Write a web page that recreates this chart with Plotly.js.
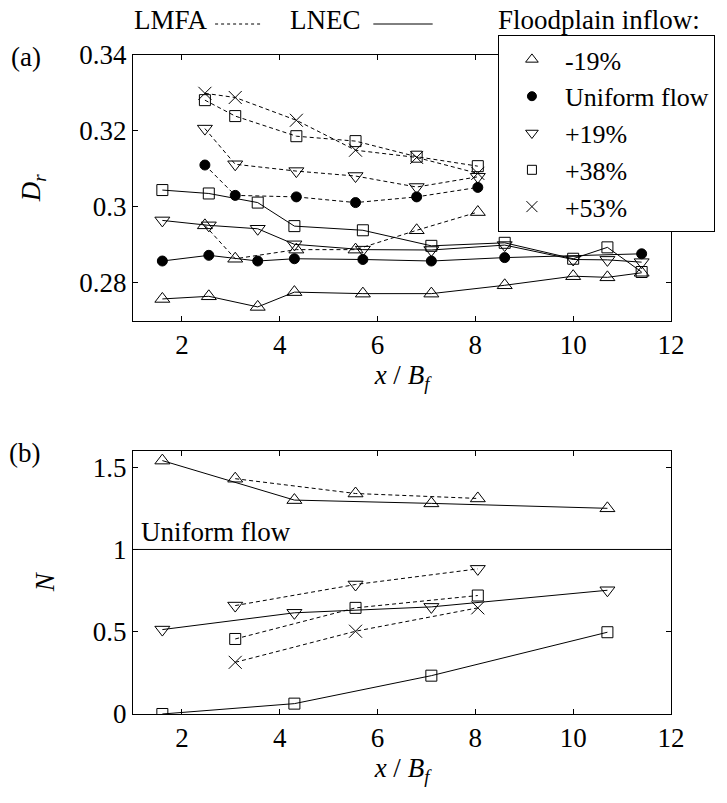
<!DOCTYPE html>
<html>
<head>
<meta charset="utf-8">
<script src="https://cdn.plot.ly/plotly-3.0.1.min.js"></script>
<style>
html,body{margin:0;padding:0;background:#fff;}
</style>
</head>
<body>
<div id="chart" style="width:727px;height:803px;"></div>
<script>
// ---------- Data: panel (a) relative depth D_r ----------
const lnecX = [1.6, 2.55, 3.55, 4.3, 5.7, 7.1, 8.6, 10.0, 10.7, 11.4];
const lnecUniformX = [1.6, 2.55, 3.55, 4.3, 5.7, 7.1, 8.6, 11.4];
const lmfaX = [2.47, 3.09, 4.34, 5.55, 6.8, 8.05];

const aLnecM19 = [0.2757, 0.2764, 0.2736, 0.2775, 0.2771, 0.2771, 0.2793, 0.2817, 0.2814, 0.2826];
const aLnecUni = [0.2857, 0.2872, 0.2857, 0.2863, 0.2861, 0.2857, 0.2866, 0.2876];
const aLnecP19 = [0.2964, 0.2951, 0.2942, 0.2901, 0.2887, 0.2886, 0.2899, 0.2861, 0.2860, 0.2854];
const aLnecP38 = [0.3044, 0.3035, 0.3011, 0.2949, 0.2938, 0.2897, 0.2905, 0.2863, 0.2893, 0.2828];

const aLmfaM19 = [0.2951, 0.2863, 0.2887, 0.2887, 0.2938, 0.2986];
const aLmfaUni = [0.3110, 0.3030, 0.3026, 0.3011, 0.3026, 0.3051];
const aLmfaP19 = [0.3206, 0.3112, 0.3094, 0.3081, 0.3052, 0.3079];
const aLmfaP38 = [0.3281, 0.3239, 0.3186, 0.3173, 0.3132, 0.3107];
const aLmfaP53 = [0.3299, 0.3288, 0.3228, 0.3149, 0.3130, 0.3088];

// ---------- Data: panel (b) N ----------
const bLnecX = [1.6, 4.3, 7.1, 10.7];
const bLmfaX = [3.09, 5.55, 8.05];
const bLnecM19 = [1.54, 1.30, 1.28, 1.25];
const bLnecP19 = [0.513, 0.615, 0.651, 0.752];
const bLnecP38 = [0.0, 0.063, 0.233, 0.497];
const bLmfaM19 = [1.43, 1.34, 1.31];
const bLmfaP19 = [0.659, 0.787, 0.882];
const bLmfaP38 = [0.456, 0.645, 0.720];
const bLmfaP53 = [0.314, 0.503, 0.645];
const UNIFORM_N = 1;

// ---------- Ticks & labels ----------
const xTickVals = [2, 4, 6, 8, 10, 12];
const xTickText = ['2', '4', '6', '8', '10', '12'];
const aTickVals = [0.28, 0.30, 0.32, 0.34];
const aTickText = ['0.28', '0.3', '0.32', '0.34'];
const bTickVals = [0, 0.5, 1, 1.5];
const bTickText = ['0', '0.5', '1', '1.5'];
const legendNames = ['-19%', 'Uniform flow', '+19%', '+38%', '+53%'];

// ---------- Styles ----------
const SERIF = 'Liberation Serif';
const FS = 27;
function TF(sz) { return {family: SERIF, size: sz || FS, color: '#000000'}; }
const sym = {
  m19: {symbol: 'triangle-up-open', size: 13},
  uni: {symbol: 'circle', size: 10},
  p19: {symbol: 'triangle-down-open', size: 13},
  p38: {symbol: 'square-open', size: 11},
  p53: {symbol: 'x-thin-open', size: 13}
};
function tr(x, y, s, dash, xa, ya) {
  return {
    x: x, y: y, xaxis: xa, yaxis: ya, type: 'scatter', mode: 'lines+markers',
    showlegend: false, hoverinfo: 'skip',
    line: {color: 'black', width: 1, dash: dash ? '4px,3px' : 'solid'},
    marker: {symbol: s.symbol, size: s.size, color: 'black', line: {color: 'black', width: 1}}
  };
}
const data = [
  tr(lnecX, aLnecM19, sym.m19, false, 'x', 'y'),
  tr(lnecUniformX, aLnecUni, sym.uni, false, 'x', 'y'),
  tr(lnecX, aLnecP19, sym.p19, false, 'x', 'y'),
  tr(lnecX, aLnecP38, sym.p38, false, 'x', 'y'),
  tr(lmfaX, aLmfaM19, sym.m19, true, 'x', 'y'),
  tr(lmfaX, aLmfaUni, sym.uni, true, 'x', 'y'),
  tr(lmfaX, aLmfaP19, sym.p19, true, 'x', 'y'),
  tr(lmfaX, aLmfaP38, sym.p38, true, 'x', 'y'),
  tr(lmfaX, aLmfaP53, sym.p53, true, 'x', 'y'),
  tr(bLnecX, bLnecM19, sym.m19, false, 'x2', 'y2'),
  tr(bLnecX, bLnecP19, sym.p19, false, 'x2', 'y2'),
  tr(bLnecX, bLnecP38, sym.p38, false, 'x2', 'y2'),
  tr(bLmfaX, bLmfaM19, sym.m19, true, 'x2', 'y2'),
  tr(bLmfaX, bLmfaP19, sym.p19, true, 'x2', 'y2'),
  tr(bLmfaX, bLmfaP38, sym.p38, true, 'x2', 'y2'),
  tr(bLmfaX, bLmfaP53, sym.p53, true, 'x2', 'y2')
];
// legend-only entries (markers only)
[sym.m19, sym.uni, sym.p19, sym.p38, sym.p53].forEach(function (s, i) {
  data.push({
    x: [null], y: [null], type: 'scatter', mode: 'markers', name: legendNames[i],
    showlegend: true, hoverinfo: 'skip',
    marker: {symbol: s.symbol, size: Math.round(s.size * 0.85), color: 'black', line: {color: 'black', width: 1}}
  });
});

function xAxis(anchor) {
  return {
    anchor: anchor, domain: [0, 1], range: [1, 12],
    tickmode: 'array', tickvals: xTickVals, ticktext: xTickText,
    ticks: 'inside', ticklen: 5, tickwidth: 1, tickcolor: 'black',
    showline: true, linecolor: 'black', linewidth: 1, mirror: 'ticks',
    showgrid: false, zeroline: false,
    tickfont: TF(),
    title: {text: '<i>x</i> / <i>B</i><sub><i>f</i></sub>', standoff: 4, font: TF()}
  };
}
function yAxis(anchor, dom, rng, tv, tt, title) {
  return {
    anchor: anchor, domain: dom, range: rng,
    tickmode: 'array', tickvals: tv, ticktext: tt,
    ticks: 'inside', ticklen: 5, tickwidth: 1, tickcolor: 'black',
    showline: true, linecolor: 'black', linewidth: 1, mirror: 'ticks',
    showgrid: false, zeroline: false,
    tickfont: TF(),
    title: {text: title, standoff: 30, font: TF()}
  };
}

const W = 544, H = 659, T = 55, L = 133;
function px(x) { return (x - L) / W; }
function py(y) { return (T + H - y) / H; }
function ann(x, y, text, xref, yref, yanchor) {
  return {xref: xref || 'paper', yref: yref || 'paper', x: x, y: y, xanchor: 'left',
          yanchor: yanchor || 'middle', text: text, showarrow: false, font: TF()};
}

const layout = {
  width: 727, height: 803,
  margin: {l: 133, r: 50, t: 55, b: 89},
  paper_bgcolor: 'white', plot_bgcolor: 'white',
  showlegend: true,
  legend: {
    x: px(502), y: py(35), xanchor: 'left', yanchor: 'top',
    bgcolor: 'white', bordercolor: 'black', borderwidth: 1,
    font: TF(26), itemwidth: 56, tracegroupgap: 0
  },
  xaxis: xAxis('y'),
  yaxis: yAxis('x', [0.597, 1], [0.27, 0.34], aTickVals, aTickText, '<i>D</i><sub><i>r</i></sub>'),
  xaxis2: xAxis('y2'),
  yaxis2: yAxis('x2', [0, 0.3995], [0, 1.6], bTickVals, bTickText, '<i>N</i>'),
  shapes: [
    {type: 'line', xref: 'x2 domain', x0: 0, x1: 1, yref: 'y2', y0: UNIFORM_N, y1: UNIFORM_N,
     line: {color: 'black', width: 1}},
    {type: 'line', xref: 'paper', yref: 'paper', x0: px(216), x1: px(264), y0: py(24), y1: py(24),
     line: {color: 'black', width: 1, dash: 'dot'}},
    {type: 'line', xref: 'paper', yref: 'paper', x0: px(376), x1: px(436), y0: py(24), y1: py(24),
     line: {color: 'black', width: 1}}
  ],
  annotations: [
    ann(px(132), py(20), 'LMFA'),
    ann(px(290), py(20), 'LNEC'),
    ann(px(500), py(20), 'Floodplain inflow:'),
    ann(px(8), py(57), '(a)'),
    ann(px(6), py(453), '(b)'),
    ann(0.012, UNIFORM_N, 'Uniform flow', 'x2 domain', 'y2', 'bottom')
  ]
};

Plotly.newPlot('chart', data, layout, {staticPlot: true});
</script>
</body>
</html>
